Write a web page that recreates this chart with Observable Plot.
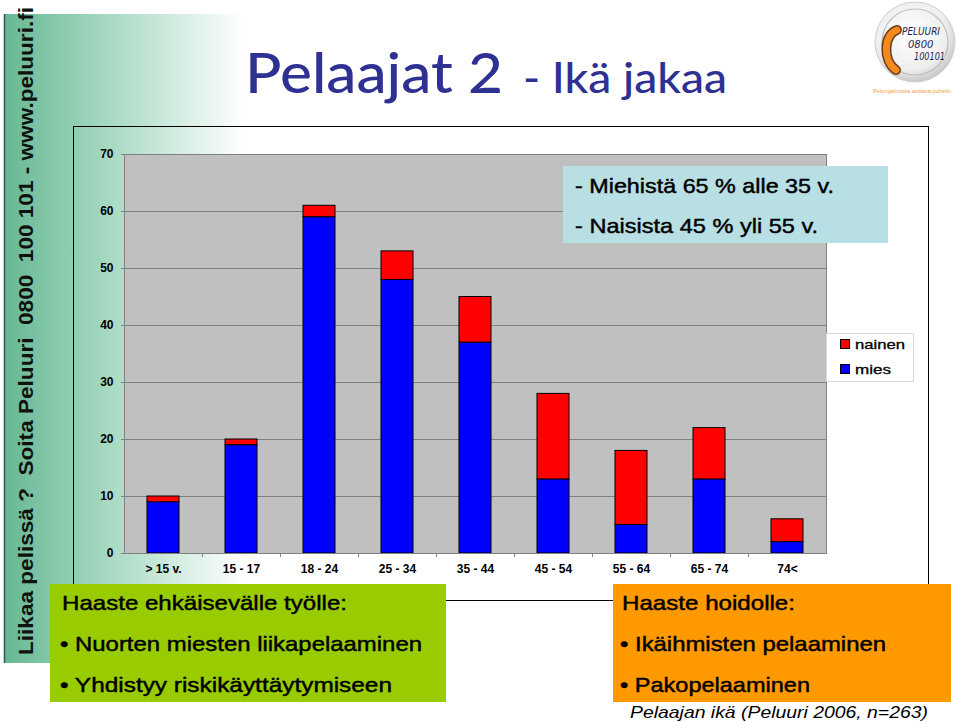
<!DOCTYPE html>
<html>
<head>
<meta charset="utf-8">
<script src="https://cdn.jsdelivr.net/npm/d3@7"></script>
<script src="https://cdn.jsdelivr.net/npm/@observablehq/plot@0.6"></script>
<style>
  html, body { margin: 0; padding: 0; background: #fff; }
  #page { position: relative; width: 960px; height: 722px; overflow: hidden; font-family: "Liberation Sans", Arial, sans-serif; }
  .layer { position: absolute; left: 0; top: 0; }
  .med { stroke: #000; stroke-width: 0.45px; }
</style>
</head>
<body>
<div id="page">
  <svg class="layer" id="bg" width="960" height="722">
    <defs>
      <linearGradient id="band" x1="0" x2="1" y1="0" y2="0">
        <stop offset="0" stop-color="#66b893"/>
        <stop offset="0.45" stop-color="#a9dac4"/>
        <stop offset="1" stop-color="#ffffff"/>
      </linearGradient>
    </defs>
    <rect x="4" y="14" width="240" height="649" fill="url(#band)"/>
    <line x1="4.5" y1="14" x2="4.5" y2="663" stroke="#2f5a48" stroke-width="1.5"/>
    <rect x="73.5" y="126.5" width="855" height="474" fill="none" stroke="#000" stroke-width="1"/>
  </svg>
  <div class="layer" id="chart"></div>
  <svg class="layer" id="fg" width="960" height="722" style="pointer-events:none" font-family="'Liberation Sans', Arial, sans-serif">
    <!-- vertical side text -->
    <text transform="translate(33,655) rotate(-90)" font-weight="bold" font-size="21" fill="#111" textLength="648" lengthAdjust="spacingAndGlyphs" xml:space="preserve">Liikaa pelissä ?  Soita Peluuri  0800  100 101 - www.peluuri.fi</text>

    <!-- title -->
    <text x="245" y="93" font-family="Lato, 'Open Sans', sans-serif" font-weight="500" fill="#2e3192" font-size="56" textLength="258" lengthAdjust="spacingAndGlyphs">Pelaajat 2</text>
    <text x="523" y="93" font-family="Lato, 'Open Sans', sans-serif" font-weight="500" fill="#2e3192" font-size="42" textLength="204" lengthAdjust="spacingAndGlyphs">- Ikä jakaa</text>

    <!-- logo -->
    <defs>
      <radialGradient id="disc" cx="0.45" cy="0.4" r="0.6">
        <stop offset="0" stop-color="#ffffff"/>
        <stop offset="0.75" stop-color="#eeeeee"/>
        <stop offset="1" stop-color="#c8c8c8"/>
      </radialGradient>
    </defs>
    <circle cx="915" cy="42" r="40" fill="url(#disc)" stroke="#cfcfcf" stroke-width="1"/>
    <circle cx="915" cy="42" r="33" fill="none" stroke="#bdbdbd" stroke-width="1.2"/>
    <path d="M897,30 C884,34 882,60 896,70" fill="none" stroke="#6b3a12" stroke-width="10" stroke-linecap="round"/>
    <path d="M897,30 C884,34 882,60 896,70" fill="none" stroke="#f28a1e" stroke-width="7" stroke-linecap="round"/>
    <text x="902" y="35" font-family="'DejaVu Sans', sans-serif" font-style="italic" font-size="10" fill="#1b1f4f" textLength="38" lengthAdjust="spacingAndGlyphs">PELUURI</text>
    <text x="908" y="48" font-family="'DejaVu Sans', sans-serif" font-style="italic" font-size="10" fill="#1b1f4f">0800</text>
    <text x="914" y="60" font-family="'DejaVu Sans', sans-serif" font-style="italic" font-size="10" fill="#1b1f4f" textLength="31" lengthAdjust="spacingAndGlyphs">100101</text>
    <text x="951" y="93" text-anchor="end" font-size="6" fill="#f0a040" textLength="78" lengthAdjust="spacingAndGlyphs">Pelongelmissa auttava puhelin</text>

    <!-- annotation box -->
    <rect x="563" y="166" width="325" height="77" fill="#b8dfe3"/>
    <text class="med" x="575" y="193" font-size="21" fill="#000" textLength="259" lengthAdjust="spacingAndGlyphs">- Miehistä 65 % alle 35 v.</text>
    <text class="med" x="575" y="233" font-size="21" fill="#000" textLength="243" lengthAdjust="spacingAndGlyphs">- Naisista 45 % yli 55 v.</text>

    <!-- legend -->
    <rect x="826.5" y="333.5" width="87" height="48" fill="#fff" stroke="#d8d8d8"/>
    <rect x="840.5" y="339.5" width="9" height="9" fill="#ff0000" stroke="#000"/>
    <text class="med" x="855" y="348.5" font-size="13" fill="#000" textLength="50" lengthAdjust="spacingAndGlyphs" style="stroke-width:0.3px">nainen</text>
    <rect x="840.5" y="364.5" width="9" height="9" fill="#0000ff" stroke="#000"/>
    <text class="med" x="855" y="373.5" font-size="13" fill="#000" textLength="36" lengthAdjust="spacingAndGlyphs" style="stroke-width:0.3px">mies</text>

    <!-- green box -->
    <rect x="50" y="584" width="396" height="118" fill="#99cc00"/>
    <text class="med" x="62" y="610" font-size="21" fill="#000" textLength="285" lengthAdjust="spacingAndGlyphs">Haaste ehkäisevälle työlle:</text>
    <text class="med" x="60" y="651" font-size="21" fill="#000" textLength="362" lengthAdjust="spacingAndGlyphs">• Nuorten miesten liikapelaaminen</text>
    <text class="med" x="60" y="692" font-size="21" fill="#000" textLength="332" lengthAdjust="spacingAndGlyphs">• Yhdistyy riskikäyttäytymiseen</text>

    <!-- orange box -->
    <rect x="613" y="584" width="338" height="118" fill="#ff9900"/>
    <text class="med" x="622" y="610" font-size="21" fill="#000" textLength="173" lengthAdjust="spacingAndGlyphs">Haaste hoidolle:</text>
    <text class="med" x="620" y="651" font-size="21" fill="#000" textLength="266" lengthAdjust="spacingAndGlyphs">• Ikäihmisten pelaaminen</text>
    <text class="med" x="620" y="692" font-size="21" fill="#000" textLength="190" lengthAdjust="spacingAndGlyphs">• Pakopelaaminen</text>

    <!-- caption -->
    <text x="630" y="718" font-size="17" font-style="italic" fill="#000" textLength="298" lengthAdjust="spacingAndGlyphs">Pelaajan ikä (Peluuri 2006, n=263)</text>
  </svg>
</div>
<script>
const ages = ["> 15 v.", "15 - 17", "18 - 24", "25 - 34", "35 - 44", "45 - 54", "55 - 64", "65 - 74", "74<"];
const mies = [9, 19, 59, 48, 37, 13, 5, 13, 2];
const nainen = [1, 1, 2, 5, 8, 15, 13, 9, 4];
const yTicks = [0, 10, 20, 30, 40, 50, 60, 70];

const data = [
  ...ages.map((age, i) => ({age, sex: "mies", value: mies[i]})),
  ...ages.map((age, i) => ({age, sex: "nainen", value: nainen[i]}))
];

const chart = Plot.plot({
  width: 960,
  height: 600,
  marginLeft: 124,
  marginRight: 134,
  marginTop: 154,
  marginBottom: 47,
  style: {background: "transparent", fontFamily: "'Liberation Sans', Arial, sans-serif", color: "#000", overflow: "visible"},
  x: {domain: ages, paddingInner: 0.59, paddingOuter: 0.295, label: null},
  y: {domain: [0, 70], label: null},
  color: {domain: ["nainen", "mies"], range: ["#ff0000", "#0000ff"]},
  marks: [
    Plot.frame({fill: "#c0c0c0", stroke: "#808080"}),
    Plot.gridY(yTicks, {stroke: "#808080", strokeOpacity: 1}),
    Plot.barY(data, {x: "age", y: "value", fill: "sex", stroke: "#000", strokeWidth: 1}),
    Plot.ruleX(ages.slice(1), {y1: 0, y2: -0.7, dx: -39, stroke: "#808080"}),
    Plot.ruleY([0], {stroke: "#808080"}),
    Plot.axisY(yTicks, {tickSize: 3, tickPadding: 8, fontSize: 12, fontWeight: "bold", stroke: "#808080", fill: "#000", label: null}),
    Plot.axisX({tickSize: 0, tickPadding: 11, fontSize: 12, fontWeight: "bold", fill: "#000", label: null})
  ]
});
document.getElementById("chart").appendChild(chart);
</script>
</body>
</html>
